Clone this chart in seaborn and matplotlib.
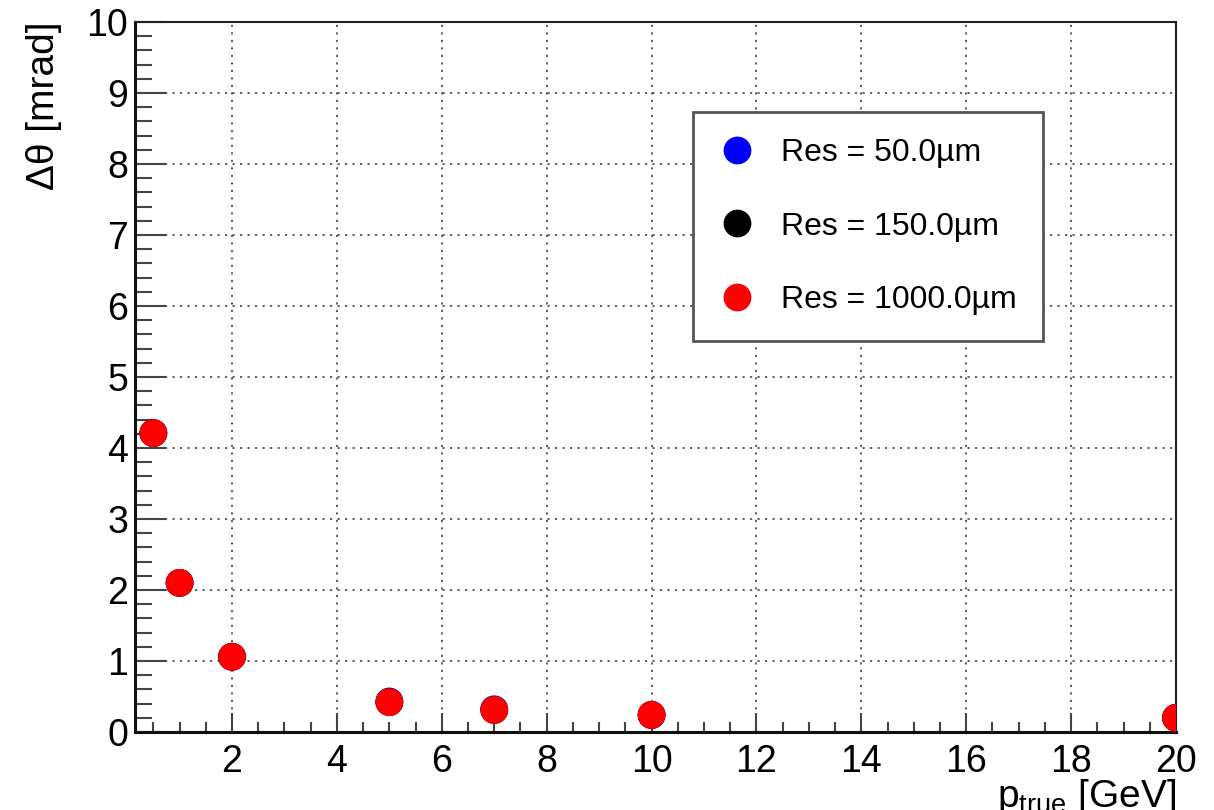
import numpy as np
import pandas as pd
import matplotlib
matplotlib.use("Agg")
import matplotlib.pyplot as plt
import seaborn as sns
from matplotlib.ticker import MultipleLocator

# values
p_true = [0.5, 1, 2, 5, 7, 10, 20]
res_50 = [4.21, 2.10, 1.06, 0.43, 0.32, 0.24, 0.20]
res_150 = [4.21, 2.10, 1.06, 0.42, 0.31, 0.24, 0.20]
res_1000 = [4.21, 2.10, 1.06, 0.42, 0.31, 0.24, 0.20]
labels = ["Res = 50.0µm", "Res = 150.0µm", "Res = 1000.0µm"]
colors = ["#0000ff", "#000000", "#ff0000"]

rows = []
for lab, vals in zip(labels, [res_50, res_150, res_1000]):
    for x, y in zip(p_true, vals):
        rows.append({"p": x, "dtheta": y, "series": lab})
df = pd.DataFrame(rows)

sns.set_style("ticks")
plt.rcParams["font.family"] = ["Liberation Sans", "DejaVu Sans"]
plt.rcParams["mathtext.fontset"] = "custom"
plt.rcParams["mathtext.rm"] = "Liberation Sans"
plt.rcParams["mathtext.it"] = "Liberation Sans"
plt.rcParams["text.color"] = "black"
plt.rcParams["axes.labelcolor"] = "black"

fig = plt.figure(figsize=(12.14, 8.10), dpi=100)
ax = fig.add_axes([135 / 1214, 1 - 732 / 810, 1041 / 1214, 710 / 810])

sns.scatterplot(data=df, x="p", y="dtheta", hue="series", palette=colors,
                s=400, linewidth=0, edgecolor="none", ax=ax, zorder=3)

ax.set_xlim(0.15, 20)
ax.set_ylim(0, 10)

ax.xaxis.set_major_locator(MultipleLocator(2))
ax.xaxis.set_minor_locator(MultipleLocator(0.5))
ax.yaxis.set_major_locator(MultipleLocator(1))
ax.yaxis.set_minor_locator(MultipleLocator(0.2))

ax.grid(True, which="major", color="#444444", linewidth=1.2,
        linestyle=(0, (1.3, 3.2)))

ax.tick_params(axis="x", which="major", direction="in", length=14, width=1.5,
               color="#444444", labelsize=27, labelcolor="black", pad=9)
ax.tick_params(axis="x", which="minor", direction="in", length=7, width=1.5,
               color="#444444")
ax.tick_params(axis="y", which="major", direction="in", length=22, width=1.5,
               color="#444444", labelsize=27, labelcolor="black", pad=5)
ax.tick_params(axis="y", which="minor", direction="in", length=12, width=1.5,
               color="#444444")
ax.tick_params(top=False, right=False)

for side in ["left", "bottom"]:
    ax.spines[side].set_linewidth(2.2)
    ax.spines[side].set_color("#111111")
for side in ["top", "right"]:
    ax.spines[side].set_linewidth(1.5)
    ax.spines[side].set_color("#222222")

ax.set_ylabel("Δθ [mrad]", fontsize=28, loc="top")
ax.yaxis.set_label_coords(-0.07, 1.0)
ax.set_xlabel(r"p$_{\mathrm{true}}$ [GeV]", fontsize=28, loc="right")
ax.xaxis.set_label_coords(1.0, -0.063)

handles, labs = ax.get_legend_handles_labels()
leg = ax.legend(handles, labs, loc="upper left",
                bbox_to_anchor=(693 / 1214, 1 - 112 / 810),
                bbox_transform=fig.transFigure,
                fontsize=23, markerscale=1.0, frameon=True, fancybox=False,
                borderpad=0.82, labelspacing=1.36, handlelength=1.1,
                handletextpad=0.85, borderaxespad=0)
leg.get_frame().set_edgecolor("#555555")
leg.get_frame().set_linewidth(2)
leg.get_frame().set_alpha(1)

fig.savefig("out.png", dpi=100)
